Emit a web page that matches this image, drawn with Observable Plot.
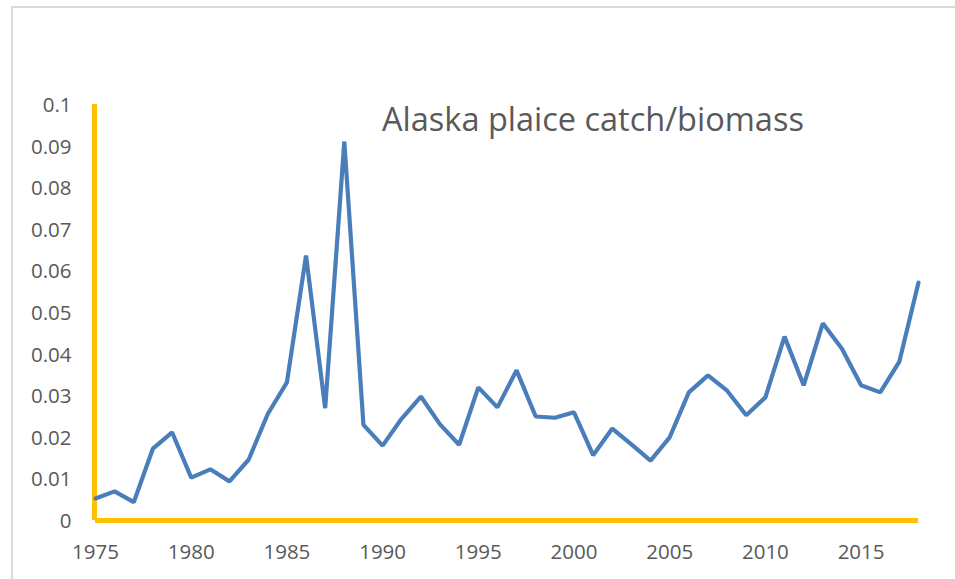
<!DOCTYPE html>
<html>
<head>
<meta charset="utf-8">
<script src="https://cdn.jsdelivr.net/npm/d3@7"></script>
<script src="https://cdn.jsdelivr.net/npm/@observablehq/plot@0.6"></script>
<style>
  html, body { margin: 0; padding: 0; background: #fff; overflow: hidden; width: 955px; height: 579px; }
  #frame { position: absolute; left: 11px; top: 6px; width: 1000px; height: 700px; border: 2px solid #d9d9d9; box-sizing: border-box; }
  #chart { position: absolute; left: 0; top: 0; }
  #title { position: absolute; left: 382px; top: 98px; font-family: "Open Sans", sans-serif; font-size: 32.5px; color: #595959; white-space: nowrap; line-height: 42px; }
</style>
</head>
<body>
<div id="frame"></div>
<div id="chart"></div>
<div id="title"></div>
<script>
const titleText = "Alaska plaice catch/biomass";
const years = [1975,1976,1977,1978,1979,1980,1981,1982,1983,1984,1985,1986,1987,1988,1989,1990,1991,1992,1993,1994,1995,1996,1997,1998,1999,2000,2001,2002,2003,2004,2005,2006,2007,2008,2009,2010,2011,2012,2013,2014,2015,2016,2017,2018];
const ratio = [0.0053,0.007,0.0044,0.0173,0.0212,0.0103,0.0123,0.0094,0.0146,0.0256,0.0332,0.0637,0.027,0.0911,0.0230,0.0180,0.0245,0.0298,0.0231,0.0182,0.0320,0.0272,0.0361,0.0250,0.0247,0.0260,0.0157,0.0221,0.0183,0.0144,0.0200,0.0308,0.0349,0.0312,0.0253,0.0296,0.0442,0.0325,0.0474,0.0413,0.0325,0.0308,0.0382,0.0572];
const xTicks = [1975,1980,1985,1990,1995,2000,2005,2010,2015];
const yTicks = [0,0.01,0.02,0.03,0.04,0.05,0.06,0.07,0.08,0.09,0.1];

const data = years.map((y, i) => ({year: y, value: ratio[i]}));
const textColor = "#595959";
const axisColor = "#FFC000";
const lineColor = "#4A7EBB";

const chart = Plot.plot({
  width: 955,
  height: 579,
  marginLeft: 95,
  marginRight: 37,
  marginTop: 104,
  marginBottom: 59,
  style: {fontFamily: "'Open Sans', sans-serif", color: textColor, background: "transparent", overflow: "visible"},
  x: {domain: [1975, 2018]},
  y: {domain: [0, 0.1]},
  marks: [
    Plot.axisX(xTicks, {tickSize: 0, tickPadding: 24, fontSize: 20.5, tickFormat: d => String(d), label: null, fill: textColor}),
    Plot.axisY(yTicks, {tickSize: 0, tickPadding: 24, fontSize: 20.5, dy: 1, tickFormat: d => String(+d.toFixed(2)), label: null, fill: textColor}),
    Plot.ruleX([1975], {y1: 0, y2: 0.1, stroke: axisColor, strokeWidth: 5, dx: -1}),
    Plot.ruleY([0], {x1: 1975, x2: 2018, stroke: axisColor, strokeWidth: 5}),
    Plot.line(data, {x: "year", y: "value", stroke: lineColor, strokeWidth: 4.2, strokeLinejoin: "miter", strokeLinecap: "round"})
  ]
});
document.getElementById("chart").appendChild(chart);
document.getElementById("title").textContent = titleText;
</script>
</body>
</html>
